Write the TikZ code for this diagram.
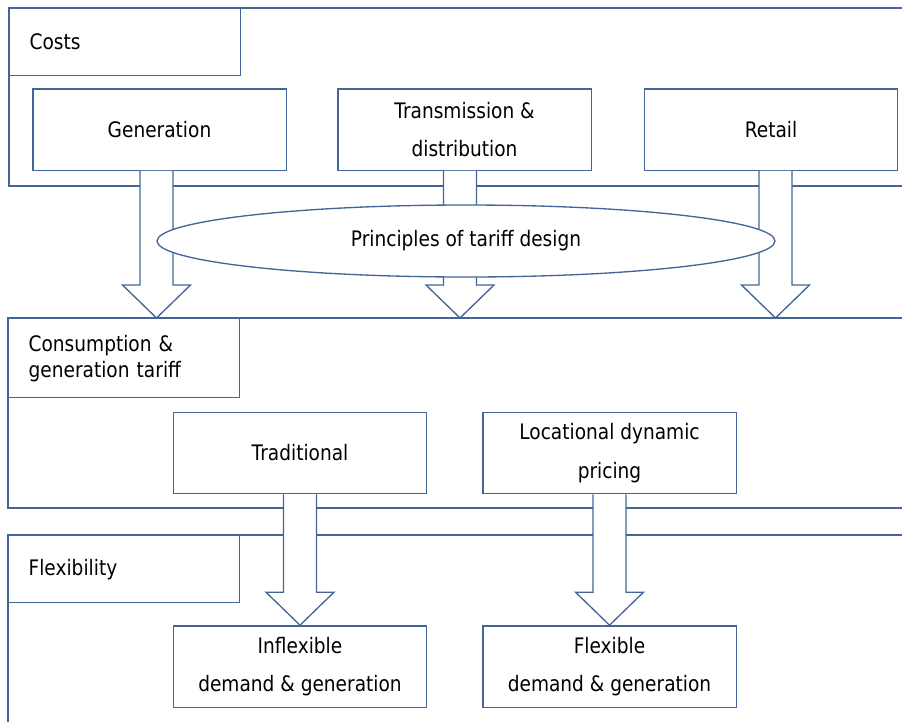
\documentclass[tikz,border=0pt]{standalone}
\usepackage{fontspec}
\setmainfont{DejaVu Sans}[FakeStretch=0.87]
\usetikzlibrary{calc,shapes.geometric}
\definecolor{boxblue}{RGB}{68,102,150}
\tikzstyle{frame}=[draw=boxblue,line width=1pt]
\tikzstyle{costbox}=[draw=boxblue,line width=1pt,fill=white,minimum width=190pt,minimum height=61pt,inner sep=0pt,align=center,font=\fontsize{16}{29}\selectfont]
\tikzstyle{layerlabel}=[draw=boxblue,line width=1pt,fill=white,anchor=north west,text width=143pt,inner xsep=15pt,inner ysep=0pt,align=left,font=\fontsize{16}{19.5}\selectfont]
\tikzstyle{blockarrow}=[draw=boxblue,line width=1pt,fill=white,line join=miter]
\tikzstyle{principle}=[ellipse,draw=boxblue,line width=1pt,fill=white,minimum width=463.5pt,minimum height=54pt,inner sep=0pt,font=\fontsize{16}{19.5}\selectfont]
% wide hollow arrow from #1 down to its tip #2
\newcommand{\fatarrow}[2]{%
  \filldraw[blockarrow] ($(#1)+(-16.5,0)$) -- ($(#2)+(-16.5,-33)$) -- ($(#2)+(-34,-33)$)
    -- (#2) -- ($(#2)+(34,-33)$) -- ($(#2)+(16.5,-33)$) -- ($(#1)+(16.5,0)$);}

\begin{document}
\begin{tikzpicture}[x=0.75pt,y=-0.75pt]
    \useasboundingbox (0,0) rectangle (902,722);
    % the three layers, open on the right
    \draw[frame] (902,8) -- (9,8) -- (9,186) -- (902,186);
    \draw[frame] (902,318) -- (8,318) -- (8,508) -- (902,508);
    \draw[frame] (902,535) -- (8,535) -- (8,722);

    \node[layerlabel,minimum height=50.25pt] (costs)  at (9,8)   {Costs};
    \node[layerlabel,minimum height=59.25pt] (tariff) at (8,318) {Consumption \&\\generation tariff};
    \node[layerlabel,minimum height=50.25pt] (flex)   at (8,535) {Flexibility};

    \node[costbox] (gen)    at (159.5,129.5) {Generation};
    \node[costbox] (trans)  at (464.5,129.5) {Transmission \&\\distribution};
    \node[costbox] (retail) at (771,129.5)   {Retail};

    \node[costbox] (trad) at (300,453)   {Traditional};
    \node[costbox] (loc)  at (609.5,453) {Locational dynamic\\pricing};

    \node[costbox] (inflex)  at (300,666.5)   {Inflexible\\demand \& generation};
    \node[costbox] (flexdem) at (609.5,666.5) {Flexible\\demand \& generation};

    % arrows from costs to tariff
    \coordinate (gtop) at ($(gen.south)+(-3,0)$);
    \coordinate (ttop) at ($(trans.south)+(-4.5,0)$);
    \coordinate (rtop) at ($(retail.south)+(4.5,0)$);
    \fatarrow{gtop}{gtop |- tariff.north}
    \fatarrow{ttop}{ttop |- tariff.north}
    \fatarrow{rtop}{rtop |- tariff.north}

    % arrows from tariff to flexibility
    \fatarrow{trad.south}{inflex.north}
    \fatarrow{loc.south}{flexdem.north}

    \node[principle] (design) at (466,241) {Principles of tariff design};
\end{tikzpicture}
\end{document}
